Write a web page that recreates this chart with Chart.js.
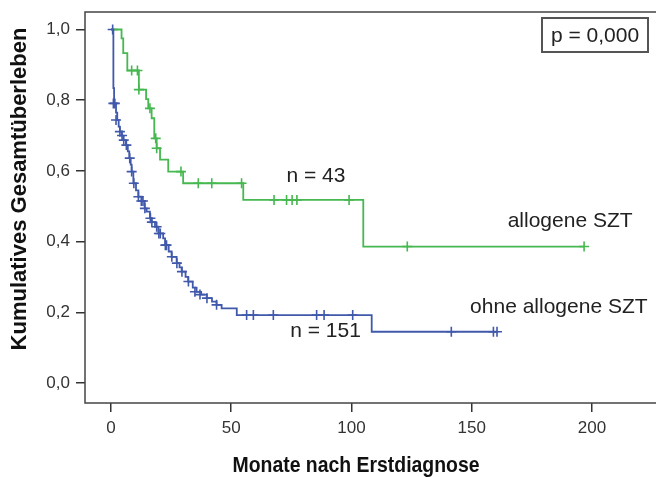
<!DOCTYPE html>
<html>
<head>
<meta charset="utf-8">
<script src="https://cdn.jsdelivr.net/npm/chart.js@4"></script>
<style>
  html, body { margin: 0; padding: 0; background: #fff; overflow: hidden; }
  #wrap { width: 656px; height: 477px; position: relative; }
  canvas { display: block; }
</style>
</head>
<body>
<div id="wrap"><canvas id="kmChart"></canvas></div>
<script>
// Kaplan-Meier: Gesamtüberleben nach Erstdiagnose (Monate)
// ohne allogene SZT (n = 151) - Stufen
const blueTimes = [0, 1, 1.3, 2.1, 2.6, 3.2, 3.7, 4.4, 5.1, 6.2, 7.0, 7.6, 8.2, 8.6, 9.3, 10.4, 11.4, 12.8, 14.0, 14.8,
  16.2, 16.9, 18.3, 19.7, 21.7, 22.5, 24.0, 25.2, 27.3, 28.5, 29.4, 31.0, 32.1, 34.0, 35.6, 37.5, 39.8, 42.0, 43.9, 46.0,
  52.3, 108.4, 160.5];
const blueSurv = [1.0, 0.834, 0.791, 0.765, 0.744, 0.725, 0.711, 0.70, 0.687, 0.673, 0.655, 0.636, 0.618, 0.598, 0.565, 0.545, 0.527, 0.515, 0.494, 0.485,
  0.466, 0.455, 0.442, 0.423, 0.409, 0.39, 0.372, 0.357, 0.339, 0.327, 0.315, 0.30, 0.287, 0.27, 0.258, 0.25, 0.24, 0.23, 0.221, 0.211,
  0.192, 0.145, 0.145];
// zensierte Fälle (Kreuze)
const blueCensTimes = [0.7, 1.0, 1.6, 2.1, 3.7, 4.6, 5.3, 6.4, 7.8, 8.6, 9.5, 11.4, 12.6, 13.3, 14.1, 16.4, 17.0, 19.0, 19.9, 20.5,
  22.6, 23.1, 25.3, 27.4, 29.5, 32.2, 34.9, 37.0, 39.9, 43.9, 56.4, 59.2, 67.5, 85.5, 88.6, 100.5, 141.5, 159.0, 160.5];
const blueCensSurv = [1.0, 0.791, 0.791, 0.744, 0.711, 0.70, 0.687, 0.673, 0.636, 0.598, 0.565, 0.527, 0.515, 0.515, 0.494, 0.466, 0.455, 0.442, 0.423, 0.423,
  0.39, 0.39, 0.357, 0.339, 0.315, 0.287, 0.258, 0.25, 0.24, 0.221, 0.192, 0.192, 0.192, 0.192, 0.192, 0.192, 0.145, 0.145, 0.145];

// allogene SZT (n = 43)
const greenTimes = [0, 4.4, 5.1, 6.8, 11.6, 14.6, 15.5, 16.9, 18.0, 19.0, 20.4, 23.8, 30.0, 55.0, 104.9, 196.7];
const greenSurv = [1.0, 0.975, 0.933, 0.884, 0.83, 0.803, 0.777, 0.749, 0.692, 0.664, 0.632, 0.598, 0.565, 0.518, 0.386, 0.386];
const greenCensTimes = [8.6, 11.0, 11.6, 16.2, 18.6, 19.0, 29.1, 36.3, 41.9, 54.3, 67.8, 73.0, 75.3, 77.3, 99.0, 123.2, 196.7];
const greenCensSurv = [0.884, 0.884, 0.83, 0.777, 0.692, 0.664, 0.598, 0.565, 0.565, 0.565, 0.518, 0.518, 0.518, 0.518, 0.518, 0.386, 0.386];

// Achsen
const xTicks = [0, 50, 100, 150, 200];
const yTicks = [0, 0.2, 0.4, 0.6, 0.8, 1.0];

// Beschriftungen im Diagramm [text, x (Monate), y (Überleben)]
const labels = [
  ['n = 43', 85.2, 0.586],
  ['n = 151', 89.2, 0.146],
  ['allogene SZT', 190.9, 0.459],
  ['ohne allogene SZT', 186.2, 0.2136]
];
const pText = 'p = 0,000';

const BLUE = '#4059ab';
const GREEN = '#45b84f';

const pts = (t, s) => t.map((v, i) => ({ x: v, y: s[i] }));

// Rahmen, Achsentitel und Texte
const decorPlugin = {
  id: 'decor',
  afterDraw(chart) {
    const { ctx, chartArea: a, scales } = chart;
    ctx.save();
    // Rahmen (rechts abgeschnitten)
    ctx.strokeStyle = '#444';
    ctx.lineWidth = 1.5;
    ctx.strokeRect(a.left, a.top, a.right - a.left + 10, a.bottom - a.top);

    // Texte im Diagramm
    ctx.fillStyle = '#222';
    ctx.font = '21px "Liberation Sans", Arial, sans-serif';
    ctx.textAlign = 'center';
    ctx.textBaseline = 'middle';
    labels.forEach(([txt, x, y]) => {
      ctx.fillText(txt, scales.x.getPixelForValue(x), scales.y.getPixelForValue(y));
    });

    // p-Wert Box
    ctx.strokeStyle = '#555';
    ctx.lineWidth = 2;
    ctx.strokeRect(542, 18, 106, 34);
    ctx.fillText(pText, 595, 36);

    // Achsentitel
    ctx.fillStyle = '#111';
    ctx.font = 'bold 22px "Liberation Sans", Arial, sans-serif';
    ctx.fillText('Monate nach Erstdiagnose', 356, 466, 247);
    ctx.translate(20, 189);
    ctx.rotate(-Math.PI / 2);
    ctx.fillText('Kumulatives Gesamtüberleben', 0, 0, 328);
    ctx.restore();
  }
};

const ctx = document.getElementById('kmChart').getContext('2d');
new Chart(ctx, {
  type: 'line',
  data: {
    datasets: [
      {
        label: 'ohne allogene SZT',
        data: pts(blueTimes, blueSurv),
        borderColor: BLUE,
        borderWidth: 1.8,
        stepped: true,
        pointRadius: 0,
        fill: false
      },
      {
        label: 'allogene SZT',
        data: pts(greenTimes, greenSurv),
        borderColor: GREEN,
        borderWidth: 1.8,
        stepped: true,
        pointRadius: 0,
        fill: false
      },
      {
        label: 'ohne allogene SZT zensiert',
        data: pts(blueCensTimes, blueCensSurv),
        showLine: false,
        pointStyle: 'cross',
        pointRadius: 5,
        borderColor: BLUE,
        pointBorderWidth: 1.6
      },
      {
        label: 'allogene SZT zensiert',
        data: pts(greenCensTimes, greenCensSurv),
        showLine: false,
        pointStyle: 'cross',
        pointRadius: 5,
        borderColor: GREEN,
        pointBorderWidth: 1.6
      }
    ]
  },
  options: {
    responsive: true,
    maintainAspectRatio: false,
    animation: false,
    layout: { autoPadding: false, padding: { top: 12, right: 0, left: 0, bottom: 0 } },
    plugins: {
      legend: { display: false },
      tooltip: { enabled: false }
    },
    scales: {
      x: {
        type: 'linear',
        min: -10.8,
        max: 226.6,
        afterFit: s => { s.height = 74; s.paddingLeft = 0; s.paddingRight = 0; },
        afterBuildTicks: s => { s.ticks = xTicks.map(v => ({ value: v })); },
        border: { display: false },
        grid: { drawOnChartArea: false, drawTicks: true, tickLength: 9, color: '#333', lineWidth: 1.5 },
        ticks: {
          padding: 6,
          color: '#333',
          font: { family: '"Liberation Sans", Arial, sans-serif', size: 17 }
        }
      },
      y: {
        type: 'linear',
        min: -0.0566,
        max: 1.0495,
        afterFit: s => { s.width = 85; s.paddingTop = 0; s.paddingBottom = 0; },
        afterBuildTicks: s => { s.ticks = yTicks.map(v => ({ value: v })); },
        border: { display: false },
        grid: { drawOnChartArea: false, drawTicks: true, tickLength: 9, color: '#333', lineWidth: 1.5 },
        ticks: {
          padding: 6,
          color: '#333',
          font: { family: '"Liberation Sans", Arial, sans-serif', size: 17 },
          callback: v => v.toFixed(1).replace('.', ',')
        }
      }
    }
  },
  plugins: [decorPlugin]
});
</script>
</body>
</html>
